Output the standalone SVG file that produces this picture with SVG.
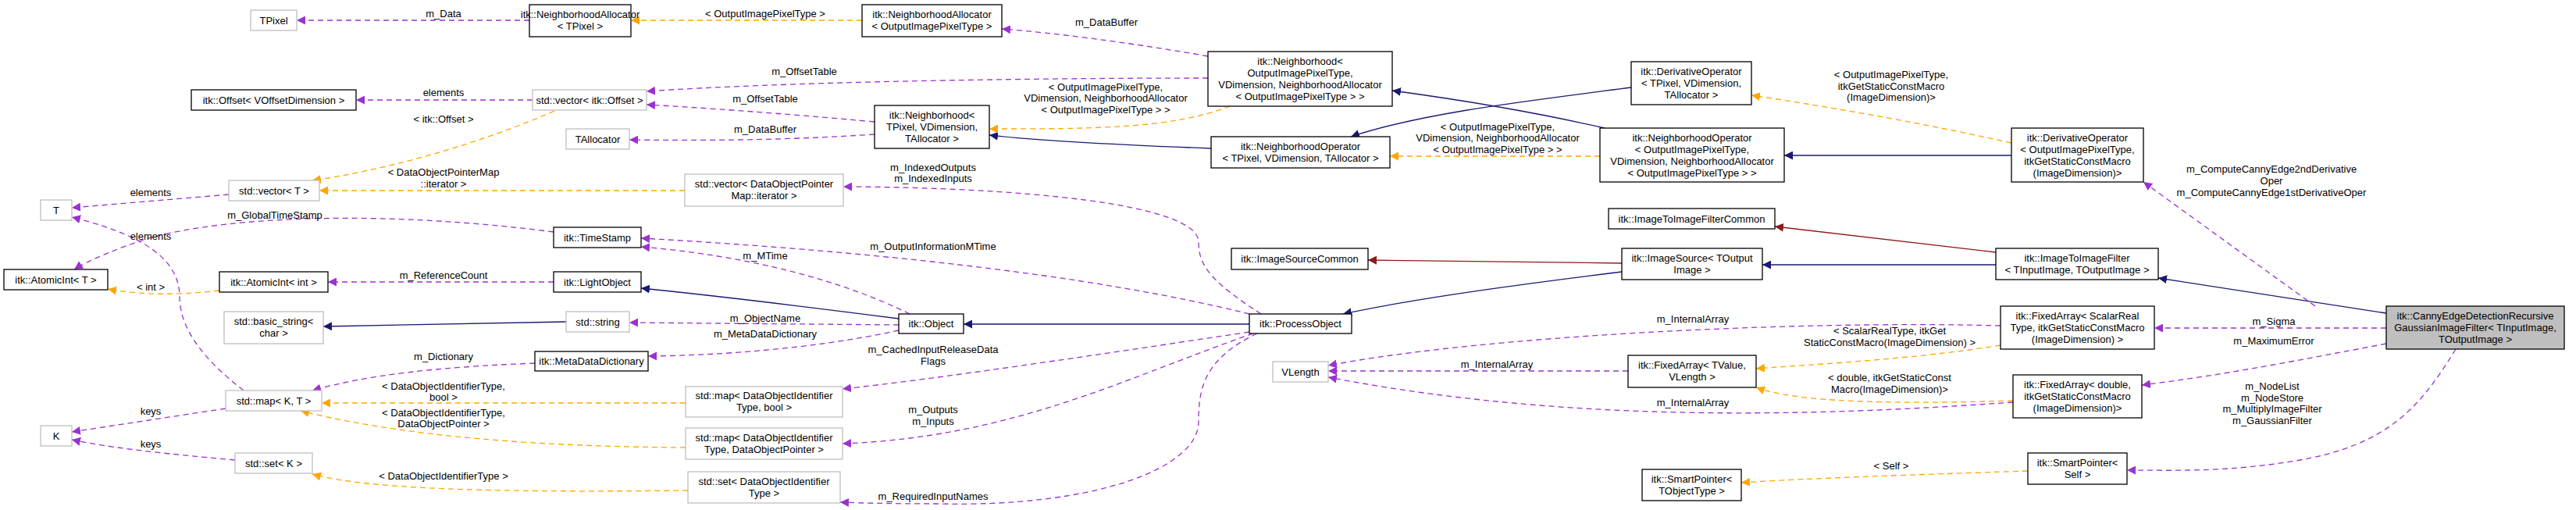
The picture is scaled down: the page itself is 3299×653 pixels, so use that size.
<svg xmlns="http://www.w3.org/2000/svg" width="3299" height="653" viewBox="0 0 3299 653">
<style>
text{font-family:"Liberation Sans",Arial,sans-serif;font-size:13px;fill:#000;text-anchor:middle}
.b{fill:#fff;stroke:#000;stroke-width:1.3}
.g{fill:#fff;stroke:#bfbfbf;stroke-width:1.3}
.m{fill:#bfbfbf;stroke:#000;stroke-width:1.3}
.p{fill:none;stroke:#9a32cd;stroke-width:1.3;stroke-dasharray:7,5;marker-end:url(#ap)}
.o{fill:none;stroke:#ffa500;stroke-width:1.3;stroke-dasharray:7,5;marker-end:url(#ao)}
.u{fill:none;stroke:#191970;stroke-width:1.3;marker-end:url(#au)}
.r{fill:none;stroke:#8b1a1a;stroke-width:1.3;marker-end:url(#ar)}
</style>
<defs>
<marker id="ap" viewBox="0 0 10 10" refX="10" refY="5" markerWidth="11" markerHeight="11" markerUnits="userSpaceOnUse" orient="auto"><path d="M0,0L10,5L0,10z" fill="#9a32cd"/></marker>
<marker id="ao" viewBox="0 0 10 10" refX="10" refY="5" markerWidth="11" markerHeight="11" markerUnits="userSpaceOnUse" orient="auto"><path d="M0,0L10,5L0,10z" fill="#ffa500"/></marker>
<marker id="au" viewBox="0 0 10 10" refX="10" refY="5" markerWidth="11" markerHeight="11" markerUnits="userSpaceOnUse" orient="auto"><path d="M0,0L10,5L0,10z" fill="#191970"/></marker>
<marker id="ar" viewBox="0 0 10 10" refX="10" refY="5" markerWidth="11" markerHeight="11" markerUnits="userSpaceOnUse" orient="auto"><path d="M0,0L10,5L0,10z" fill="#8b1a1a"/></marker>
</defs>
<rect width="3299" height="653" fill="#fff"/>
<g id="connectors">
<path class="p" d="M678,26L380,26"/><text x="568" y="22">m_Data</text>
<path class="o" d="M1104,26L808,26"/><text x="980" y="22">&lt; OutputImagePixelType &gt;</text>
<path class="p" d="M1547,72C1450,55 1350,42 1283,37"/><text x="1417" y="33">m_DataBuffer</text>
<path class="p" d="M1547,100C1300,100 1000,105 828,117"/><text x="1030" y="96">m_OffsetTable</text>
<path class="p" d="M1120,156C1000,145 900,138 828,134"/><text x="980" y="131">m_OffsetTable</text>
<path class="p" d="M1120,172C1000,180 900,180 806,179"/><text x="980" y="170">m_DataBuffer</text>
<path class="p" d="M682,128L456,128"/><text x="568" y="123">elements</text>
<path class="o" d="M710,142C600,190 480,220 400,231"/><text x="568" y="157">&lt; itk::Offset &gt;</text>
<path class="o" d="M877,244L409,244"/><text x="568" y="225">&lt; DataObjectPointerMap</text><text x="568" y="240">::iterator &gt;</text>
<path class="p" d="M293,249L92,266"/><text x="193" y="251">elements</text>
<path class="p" d="M709,297C500,270 300,275 190,305C150,318 110,335 95,345"/><text x="352" y="280">m_GlobalTimeStamp</text>
<path class="p" d="M312,500C260,460 230,420 230,380C230,330 180,300 92,278"/><text x="193" y="307">elements</text>
<path class="o" d="M281,372C230,378 180,378 138,370"/><text x="193" y="372">&lt; int &gt;</text>
<path class="p" d="M709,361L420,361"/><text x="568" y="357">m_ReferenceCount</text>
<path class="u" d="M1151,408C1050,395 930,380 821,369"/>
<path class="p" d="M1165,402C1060,350 930,325 821,316"/><text x="980" y="332">m_MTime</text>
<path class="p" d="M1600,402C1350,340 1000,315 821,305"/><text x="1195" y="320">m_OutputInformationMTime</text>
<path class="p" d="M1151,416L806,413"/><text x="980" y="412">m_ObjectName</text>
<path class="p" d="M1151,423C1050,445 930,455 830,456"/><text x="980" y="432">m_MetaDataDictionary</text>
<path class="u" d="M725,412L414,418"/>
<path class="p" d="M685,465C560,470 470,480 400,500"/><text x="568" y="461">m_Dictionary</text>
<path class="o" d="M878,516L412,516"/><text x="568" y="499">&lt; DataObjectIdentifierType,</text><text x="568" y="513">bool &gt;</text>
<path class="o" d="M878,573C700,572 520,560 385,526"/><text x="568" y="533">&lt; DataObjectIdentifierType,</text><text x="568" y="547">DataObjectPointer &gt;</text>
<path class="o" d="M881,628C700,630 480,630 400,607"/><text x="568" y="614">&lt; DataObjectIdentifierType &gt;</text>
<path class="p" d="M289,523L92,553"/><text x="193" y="531">keys</text>
<path class="p" d="M301,589C200,580 140,573 92,563"/><text x="193" y="573">keys</text>
<path class="u" d="M1600,415L1234,415"/>
<path class="p" d="M1600,425C1400,455 1200,485 1079,498"/><text x="1195" y="452">m_CachedInputReleaseData</text><text x="1195" y="467">Flags</text>
<path class="p" d="M1605,427C1450,480 1300,560 1079,568"/><text x="1195" y="529">m_Outputs</text><text x="1195" y="544">m_Inputs</text>
<path class="p" d="M1610,427C1540,460 1535,500 1535,540C1535,600 1400,650 1200,645C1140,645 1100,644 1076,643"/><text x="1195" y="640">m_RequiredInputNames</text>
<path class="p" d="M1615,402C1550,360 1535,340 1535,310C1535,260 1300,240 1080,239"/><text x="1195" y="219">m_IndexedOutputs</text><text x="1195" y="233">m_IndexedInputs</text>
<path class="r" d="M2077,337L1752,333"/>
<path class="u" d="M2077,348C1900,370 1800,385 1720,402"/>
<path class="u" d="M2556,339L2257,339"/>
<path class="r" d="M2556,323L2273,290"/>
<path class="u" d="M3056,401L2764,356"/>
<path class="p" d="M2965,392L2745,233"/><text x="2909" y="221">m_ComputeCannyEdge2ndDerivative</text><text x="2909" y="236">Oper</text><text x="2909" y="251">m_ComputeCannyEdge1stDerivativeOper</text>
<path class="p" d="M3056,420L2759,420"/><text x="2912" y="416">m_Sigma</text>
<path class="p" d="M3056,440C2950,460 2850,480 2743,493"/><text x="2912" y="441">m_MaximumError</text>
<path class="p" d="M3145,447C3100,520 3060,570 2940,590C2850,605 2780,602 2724,602"/><text x="2910" y="499">m_NodeList</text><text x="2910" y="514">m_NodeStore</text><text x="2910" y="528">m_MultiplyImageFilter</text><text x="2910" y="543">m_GaussianFilter</text>
<path class="o" d="M2597,603C2450,608 2320,612 2230,618"/><text x="2422" y="601">&lt; Self &gt;</text>
<path class="o" d="M2562,442C2450,460 2330,466 2249,472"/><text x="2420" y="428">&lt; ScalarRealType, itkGet</text><text x="2420" y="443">StaticConstMacro(ImageDimension) &gt;</text>
<path class="o" d="M2578,513C2420,518 2300,515 2249,496"/><text x="2420" y="488">&lt; double, itkGetStaticConst</text><text x="2420" y="503">Macro(ImageDimension)&gt;</text>
<path class="p" d="M2562,417C2300,410 1900,430 1701,468"/><text x="2168" y="413">m_InternalArray</text>
<path class="p" d="M2085,475L1701,475"/><text x="1917" y="471">m_InternalArray</text>
<path class="p" d="M2578,515C2300,535 2000,540 1701,483"/><text x="2168" y="520">m_InternalArray</text>
<path class="u" d="M2576,199L2285,199"/>
<path class="o" d="M2576,183C2450,155 2330,135 2243,122"/><text x="2422" y="100">&lt; OutputImagePixelType,</text><text x="2422" y="115">itkGetStaticConstMacro</text><text x="2422" y="129">(ImageDimension)&gt;</text>
<path class="o" d="M2049,200L1780,200"/><text x="1918" y="167">&lt; OutputImagePixelType,</text><text x="1918" y="181">VDimension, NeighborhoodAllocator</text><text x="1918" y="196">&lt; OutputImagePixelType &gt; &gt;</text>
<path class="u" d="M2055,164C1950,140 1850,125 1783,116"/>
<path class="u" d="M2089,112C1950,130 1820,145 1730,175"/>
<path class="u" d="M1551,190C1420,185 1330,180 1267,173"/>
<path class="o" d="M1575,136C1500,165 1400,165 1267,165"/><text x="1416" y="116">&lt; OutputImagePixelType,</text><text x="1416" y="130">VDimension, NeighborhoodAllocator</text><text x="1416" y="145">&lt; OutputImagePixelType &gt; &gt;</text>
</g>
<g id="n1"><rect class="g" x="321" y="13" width="59" height="26"/><text x="350.5" y="30.5">TPixel</text></g>
<g id="n2"><rect class="b" x="678" y="6" width="130" height="41"/><text x="743" y="23">itk::NeighborhoodAllocator</text><text x="743" y="38">&lt; TPixel &gt;</text></g>
<g id="n3"><rect class="b" x="1104" y="6" width="179" height="41"/><text x="1193.5" y="23">itk::NeighborhoodAllocator</text><text x="1193.5" y="38">&lt; OutputImagePixelType &gt;</text></g>
<g id="n4"><rect class="b" x="245" y="115" width="211" height="26"/><text x="350.5" y="132.5">itk::Offset&lt; VOffsetDimension &gt;</text></g>
<g id="n5"><rect class="g" x="682" y="115" width="146" height="26"/><text x="755" y="132.5">std::vector&lt; itk::Offset &gt;</text></g>
<g id="n6"><rect class="g" x="725" y="165" width="81" height="26"/><text x="765.5" y="182.5">TAllocator</text></g>
<g id="n7"><rect class="g" x="293" y="231" width="116" height="26"/><text x="351" y="248.5">std::vector&lt; T &gt;</text></g>
<g id="n8"><rect class="g" x="52" y="256" width="40" height="26"/><text x="72" y="273.5">T</text></g>
<g id="n9"><rect class="b" x="709" y="291" width="112" height="26"/><text x="765" y="308.5">itk::TimeStamp</text></g>
<g id="n10"><rect class="b" x="5" y="345" width="133" height="26"/><text x="71.5" y="362.5">itk::AtomicInt&lt; T &gt;</text></g>
<g id="n11"><rect class="b" x="281" y="348" width="139" height="26"/><text x="350.5" y="365.5">itk::AtomicInt&lt; int &gt;</text></g>
<g id="n12"><rect class="b" x="709" y="348" width="112" height="26"/><text x="765" y="365.5">itk::LightObject</text></g>
<g id="n13"><rect class="g" x="287" y="399" width="127" height="41"/><text x="350.5" y="416">std::basic_string&lt;</text><text x="350.5" y="431">char &gt;</text></g>
<g id="n14"><rect class="g" x="725" y="399" width="81" height="26"/><text x="765.5" y="416.5">std::string</text></g>
<g id="n15"><rect class="b" x="685" y="450" width="145" height="25"/><text x="757.5" y="467">itk::MetaDataDictionary</text></g>
<g id="n16"><rect class="g" x="289" y="500" width="123" height="26"/><text x="350.5" y="517.5">std::map&lt; K, T &gt;</text></g>
<g id="n17"><rect class="g" x="52" y="545" width="40" height="26"/><text x="72" y="562.5">K</text></g>
<g id="n18"><rect class="g" x="301" y="580" width="99" height="26"/><text x="350.5" y="597.5">std::set&lt; K &gt;</text></g>
<g id="n19"><rect class="b" x="1547" y="66" width="236" height="70"/><text x="1665" y="83">itk::Neighborhood&lt;</text><text x="1665" y="98">OutputImagePixelType,</text><text x="1665" y="113">VDimension, NeighborhoodAllocator</text><text x="1665" y="128">&lt; OutputImagePixelType &gt; &gt;</text></g>
<g id="n20"><rect class="b" x="1120" y="135" width="147" height="55"/><text x="1193.5" y="152">itk::Neighborhood&lt;</text><text x="1193.5" y="167">TPixel, VDimension,</text><text x="1193.5" y="182">TAllocator &gt;</text></g>
<g id="n21"><rect class="b" x="1551" y="175" width="229" height="40"/><text x="1665.5" y="192">itk::NeighborhoodOperator</text><text x="1665.5" y="207">&lt; TPixel, VDimension, TAllocator &gt;</text></g>
<g id="n22"><rect class="g" x="877" y="223" width="203" height="41"/><text x="978.5" y="240">std::vector&lt; DataObjectPointer</text><text x="978.5" y="255">Map::iterator &gt;</text></g>
<g id="n23"><rect class="b" x="1151" y="402" width="83" height="25"/><text x="1192.5" y="419">itk::Object</text></g>
<g id="n24"><rect class="b" x="1600" y="402" width="131" height="25"/><text x="1665.5" y="419">itk::ProcessObject</text></g>
<g id="n25"><rect class="g" x="878" y="495" width="201" height="39"/><text x="978.5" y="511">std::map&lt; DataObjectIdentifier</text><text x="978.5" y="526">Type, bool &gt;</text></g>
<g id="n26"><rect class="g" x="878" y="548" width="201" height="40"/><text x="978.5" y="565">std::map&lt; DataObjectIdentifier</text><text x="978.5" y="580">Type, DataObjectPointer &gt;</text></g>
<g id="n27"><rect class="g" x="881" y="604" width="195" height="40"/><text x="978.5" y="621">std::set&lt; DataObjectIdentifier</text><text x="978.5" y="636">Type &gt;</text></g>
<g id="n28"><rect class="b" x="1577" y="318" width="175" height="27"/><text x="1664.5" y="336">itk::ImageSourceCommon</text></g>
<g id="n29"><rect class="g" x="1630" y="463" width="71" height="26"/><text x="1665.5" y="480.5">VLength</text></g>
<g id="n30"><rect class="b" x="2089" y="79" width="154" height="55"/><text x="2166" y="96">itk::DerivativeOperator</text><text x="2166" y="111">&lt; TPixel, VDimension,</text><text x="2166" y="126">TAllocator &gt;</text></g>
<g id="n31"><rect class="b" x="2049" y="164" width="236" height="69"/><text x="2167" y="181">itk::NeighborhoodOperator</text><text x="2167" y="196">&lt; OutputImagePixelType,</text><text x="2167" y="211">VDimension, NeighborhoodAllocator</text><text x="2167" y="226">&lt; OutputImagePixelType &gt; &gt;</text></g>
<g id="n32"><rect class="b" x="2060" y="267" width="213" height="26"/><text x="2166.5" y="284.5">itk::ImageToImageFilterCommon</text></g>
<g id="n33"><rect class="b" x="2077" y="318" width="180" height="40"/><text x="2167" y="335">itk::ImageSource&lt; TOutput</text><text x="2167" y="350">Image &gt;</text></g>
<g id="n34"><rect class="b" x="2085" y="455" width="164" height="41"/><text x="2167" y="472">itk::FixedArray&lt; TValue,</text><text x="2167" y="487">VLength &gt;</text></g>
<g id="n35"><rect class="b" x="2103" y="601" width="127" height="40"/><text x="2166.5" y="618">itk::SmartPointer&lt;</text><text x="2166.5" y="633">TObjectType &gt;</text></g>
<g id="n36"><rect class="b" x="2576" y="164" width="169" height="69"/><text x="2660.5" y="181">itk::DerivativeOperator</text><text x="2660.5" y="196">&lt; OutputImagePixelType,</text><text x="2660.5" y="211">itkGetStaticConstMacro</text><text x="2660.5" y="226">(ImageDimension)&gt;</text></g>
<g id="n37"><rect class="b" x="2556" y="318" width="208" height="40"/><text x="2660" y="335">itk::ImageToImageFilter</text><text x="2660" y="350">&lt; TInputImage, TOutputImage &gt;</text></g>
<g id="n38"><rect class="b" x="2562" y="392" width="197" height="55"/><text x="2660.5" y="409">itk::FixedArray&lt; ScalarReal</text><text x="2660.5" y="424">Type, itkGetStaticConstMacro</text><text x="2660.5" y="439">(ImageDimension) &gt;</text></g>
<g id="n39"><rect class="b" x="2578" y="480" width="165" height="55"/><text x="2660.5" y="497">itk::FixedArray&lt; double,</text><text x="2660.5" y="512">itkGetStaticConstMacro</text><text x="2660.5" y="527">(ImageDimension)&gt;</text></g>
<g id="n40"><rect class="b" x="2597" y="580" width="127" height="40"/><text x="2660.5" y="597">itk::SmartPointer&lt;</text><text x="2660.5" y="612">Self &gt;</text></g>
<g id="n41"><rect class="m" x="3056" y="392" width="228" height="55"/><text x="3170" y="409">itk::CannyEdgeDetectionRecursive</text><text x="3170" y="424">GaussianImageFilter&lt; TInputImage,</text><text x="3170" y="439">TOutputImage &gt;</text></g>
</svg>
